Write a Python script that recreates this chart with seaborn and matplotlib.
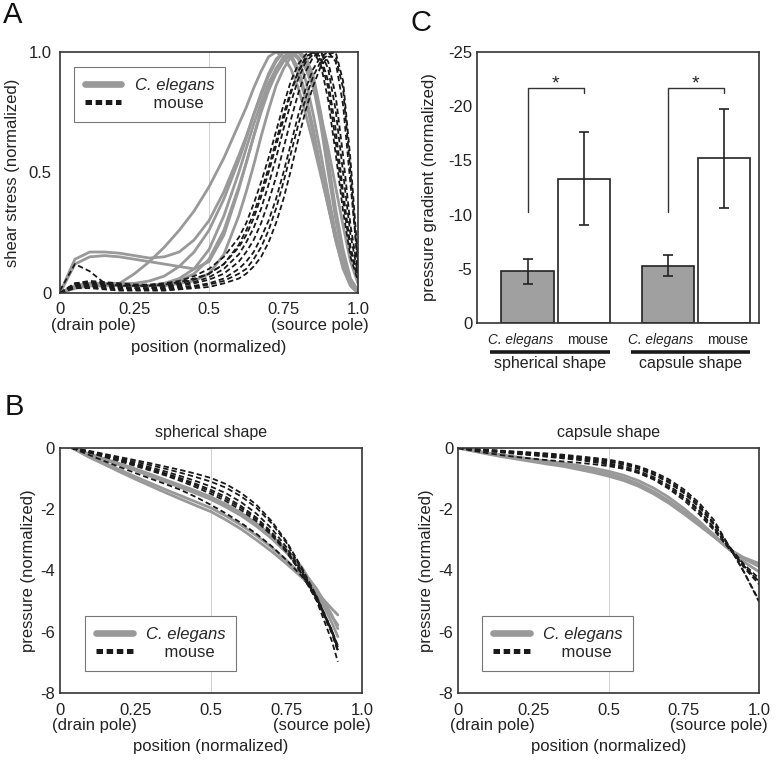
import matplotlib
matplotlib.use("Agg")
import matplotlib.pyplot as plt
from matplotlib.lines import Line2D
import pandas as pd
import seaborn as sns

# ---------------- panel A: shear stress (normalized) ----------------
shear_x = [0, 0.05, 0.1, 0.15, 0.2, 0.25, 0.3, 0.35, 0.4, 0.45, 0.5, 0.55, 0.6, 0.625,
           0.65, 0.675, 0.7, 0.725, 0.75, 0.775, 0.8, 0.825, 0.85, 0.875, 0.9, 0.925,
           0.95, 0.975, 1.0]
shear_celegans = [
    [0, .02, .03, .03, .04, .08, .13, .19, .26, .34, .44, .56, .70, .77, .85, .92, .98, 1.0,
     .98, .93, .85, .74, .62, .49, .36, .23, .12, .04, 0],
    [0, .14, .17, .17, .165, .155, .145, .15, .17, .22, .30, .42, .57, .65, .74, .82, .90, .96,
     1.0, .99, .93, .82, .68, .52, .37, .22, .10, .03, 0],
    [0, .12, .15, .155, .15, .14, .13, .12, .11, .10, .13, .24, .43, .54, .65, .76, .86, .93,
     .98, 1.0, .97, .88, .74, .58, .41, .25, .12, .04, 0],
    [0, .03, .04, .04, .04, .04, .05, .07, .11, .17, .26, .39, .55, .64, .74, .83, .91, .97,
     1.0, .98, .91, .80, .66, .51, .36, .22, .11, .03, 0],
    [0, .03, .04, .04, .035, .03, .03, .04, .05, .08, .14, .26, .44, .54, .65, .75, .84, .91,
     .96, .99, 1.0, .96, .86, .70, .50, .31, .15, .05, 0],
    [0, .03, .035, .035, .03, .03, .03, .03, .04, .05, .08, .16, .32, .42, .53, .65, .76, .86,
     .93, .98, 1.0, .98, .90, .75, .55, .35, .18, .06, .01],
    [0, .02, .03, .03, .03, .03, .03, .04, .06, .10, .18, .32, .50, .60, .70, .79, .87, .93,
     .97, 1.0, .98, .93, .85, .74, .60, .44, .28, .13, .04],
]
shear_mouse = [
    [.01, .12, .09, .04, .03, .03, .03, .035, .045, .06, .08, .12, .20, .26, .33, .42, .52,
     .63, .74, .84, .92, .98, 1.0, .97, .85, .63, .38, .17, .06],
    [0, .04, .05, .045, .04, .035, .035, .04, .05, .07, .10, .15, .23, .29, .37, .46, .56,
     .67, .78, .88, .95, .99, 1.0, .95, .80, .58, .34, .15, .05],
    [0, .04, .045, .04, .035, .03, .03, .035, .04, .055, .08, .12, .19, .24, .31, .40, .50,
     .61, .72, .83, .92, .97, 1.0, .98, .88, .68, .42, .19, .07],
    [0, .035, .04, .035, .03, .03, .03, .03, .035, .045, .065, .10, .16, .21, .27, .35, .45,
     .56, .68, .79, .89, .96, .99, 1.0, .93, .76, .50, .24, .08],
    [0, .03, .035, .03, .025, .02, .02, .025, .03, .04, .055, .08, .13, .17, .22, .29, .38,
     .48, .60, .72, .83, .92, .98, 1.0, .96, .82, .57, .28, .09],
    [0, .03, .03, .025, .02, .02, .02, .02, .025, .03, .04, .06, .10, .13, .17, .23, .30,
     .39, .50, .62, .74, .85, .93, .98, 1.0, .96, .78, .45, .12],
    [0, .025, .025, .02, .015, .015, .015, .015, .02, .025, .035, .05, .08, .10, .14, .19,
     .26, .35, .46, .58, .70, .81, .90, .96, .99, 1.0, .88, .55, .14],
    [0, .02, .02, .015, .01, .01, .01, .01, .015, .02, .025, .04, .06, .08, .11, .15, .21,
     .29, .39, .51, .64, .76, .86, .94, .98, .98, .85, .50, .10],
]

# ---------------- panel B: pressure (normalized) ----------------
sph_x = [0.04, 0.1, 0.15, 0.2, 0.25, 0.3, 0.35, 0.4, 0.45, 0.5, 0.55, 0.6, 0.65, 0.7,
         0.75, 0.8, 0.85, 0.9, 0.92]
sph_celegans = [
    [0, -.32, -.55, -.79, -1.02, -1.24, -1.46, -1.67, -1.88, -2.08, -2.35, -2.65, -3.0,
     -3.37, -3.78, -4.22, -4.7, -5.25, -5.45],
    [0, -.28, -.5, -.72, -.94, -1.15, -1.36, -1.56, -1.76, -1.96, -2.22, -2.52, -2.86,
     -3.24, -3.67, -4.15, -4.75, -5.5, -5.78],
    [0, -.2, -.36, -.52, -.68, -.86, -1.04, -1.22, -1.4, -1.6, -1.84, -2.12, -2.46, -2.86,
     -3.32, -3.88, -4.7, -5.7, -6.16],
    [0, -.22, -.39, -.56, -.73, -.92, -1.1, -1.29, -1.48, -1.68, -1.93, -2.21, -2.55, -2.95,
     -3.42, -3.96, -4.6, -5.45, -5.9],
]
sph_mouse = [
    [0, -.1, -.2, -.3, -.4, -.5, -.61, -.72, -.84, -.98, -1.18, -1.47, -1.85, -2.38, -3.05,
     -3.9, -4.85, -5.95, -6.5],
    [0, -.12, -.23, -.34, -.45, -.56, -.68, -.81, -.95, -1.1, -1.3, -1.58, -1.95, -2.45,
     -3.1, -3.95, -4.9, -6.0, -6.6],
    [0, -.13, -.25, -.37, -.5, -.63, -.77, -.92, -1.08, -1.26, -1.48, -1.77, -2.14, -2.62,
     -3.24, -4.02, -4.92, -5.95, -6.45],
    [0, -.14, -.27, -.4, -.54, -.68, -.83, -.99, -1.17, -1.37, -1.6, -1.9, -2.27, -2.74,
     -3.34, -4.08, -4.95, -6.0, -6.55],
    [0, -.16, -.3, -.44, -.59, -.74, -.9, -1.08, -1.28, -1.5, -1.74, -2.03, -2.39, -2.84,
     -3.4, -4.1, -4.95, -6.05, -6.65],
    [0, -.24, -.44, -.63, -.82, -1.0, -1.18, -1.37, -1.6, -1.86, -2.14, -2.45, -2.8, -3.2,
     -3.66, -4.18, -4.85, -5.95, -6.6],
    [0, -.15, -.28, -.41, -.55, -.7, -.86, -1.03, -1.22, -1.43, -1.67, -1.96, -2.33, -2.79,
     -3.37, -4.1, -5.0, -6.3, -6.98],
]

cap_x = [0, 0.05, 0.1, 0.15, 0.2, 0.25, 0.3, 0.35, 0.4, 0.45, 0.5, 0.55, 0.6, 0.65, 0.7,
         0.75, 0.8, 0.85, 0.9, 0.95, 1.0]
cap_celegans = [
    [0, -.1, -.2, -.29, -.37, -.45, -.53, -.6, -.7, -.8, -.92, -1.06, -1.25, -1.5, -1.8,
     -2.15, -2.52, -2.9, -3.3, -3.58, -3.77],
    [0, -.09, -.18, -.26, -.34, -.41, -.48, -.55, -.63, -.73, -.84, -.98, -1.17, -1.42,
     -1.72, -2.07, -2.46, -2.87, -3.3, -3.62, -3.87],
    [0, -.08, -.16, -.23, -.3, -.37, -.43, -.5, -.57, -.66, -.76, -.89, -1.07, -1.31, -1.61,
     -1.97, -2.38, -2.83, -3.3, -3.72, -4.04],
]
cap_mouse = [
    [0, -.09, -.17, -.24, -.3, -.35, -.4, -.44, -.48, -.53, -.59, -.68, -.82, -1.03, -1.33,
     -1.7, -2.15, -2.68, -3.28, -3.85, -4.36],
    [0, -.03, -.06, -.09, -.12, -.15, -.18, -.22, -.27, -.32, -.38, -.47, -.6, -.78, -1.02,
     -1.35, -1.78, -2.35, -3.2, -4.05, -5.02],
    [0, -.04, -.08, -.12, -.16, -.2, -.24, -.28, -.33, -.39, -.45, -.54, -.68, -.87, -1.13,
     -1.47, -1.92, -2.5, -3.2, -3.8, -4.26],
    [0, -.05, -.1, -.14, -.18, -.22, -.27, -.31, -.36, -.42, -.5, -.6, -.75, -.95, -1.22,
     -1.57, -2.02, -2.6, -3.25, -3.85, -4.36],
    [0, -.05, -.1, -.15, -.2, -.24, -.29, -.34, -.39, -.46, -.54, -.65, -.8, -1.0, -1.28,
     -1.63, -2.07, -2.62, -3.25, -3.9, -4.45],
    [0, -.04, -.07, -.1, -.14, -.17, -.21, -.25, -.3, -.35, -.42, -.51, -.64, -.83, -1.08,
     -1.42, -1.85, -2.45, -3.2, -4.05, -4.98],
]

# ---------------- panel C: pressure gradient (normalized) ----------------
shapes = ["spherical shape", "capsule shape"]
species = ["C. elegans", "mouse"]
grad_celegans = [-4.75, -5.3]
grad_mouse = [-13.3, -15.2]
err_celegans = [1.16, 1.0]
err_mouse = [4.3, 4.57]

GRAY = "#999999"
DARK = "#1a1a1a"
FRAME = "#333333"

sns.set_theme(style="white")
plt.rcParams["font.family"] = ["Liberation Sans", "DejaVu Sans"]
plt.rcParams["axes.unicode_minus"] = False


def to_long(x, gray_curves, black_curves):
    rows = []
    for name, curves in zip(species, [gray_curves, black_curves]):
        for k, ys in enumerate(curves):
            for xi, yi in zip(x, ys):
                rows.append({"x": xi, "y": yi, "species": name, "curve": f"{name}-{k}"})
    return pd.DataFrame(rows)


def draw_profiles(ax, df):
    sns.lineplot(data=df, x="x", y="y", hue="species", size="species", style="species",
                 units="curve", estimator=None, sort=False, hue_order=species,
                 palette={"C. elegans": GRAY, "mouse": DARK},
                 sizes={"C. elegans": 2.0, "mouse": 1.3},
                 dashes={"C. elegans": "", "mouse": (3.0, 1.7)},
                 legend=False, ax=ax)
    ax.axvline(0.5, color="#d0d0d0", lw=0.7, zorder=0)


def add_legend(ax, anchor):
    # four square dashes fill the handle, like the original key
    handles = [Line2D([], [], color=GRAY, lw=4.8),
               Line2D([], [], color=DARK, lw=3.6, ls=(0, (1.3, 0.73)))]
    leg = ax.legend(handles, ["C. elegans", "    mouse"], loc="upper left",
                    bbox_to_anchor=anchor, borderaxespad=0, frameon=True, fancybox=False,
                    edgecolor="#777777", framealpha=1, fontsize=12, handlelength=2.2,
                    handletextpad=0.8, borderpad=0.65, labelspacing=0.2)
    leg.get_frame().set_linewidth(0.8)
    leg.get_texts()[0].set_fontstyle("italic")


def style_axes(ax, xpad=6.5, ypad=4):
    for s in ax.spines.values():
        s.set_visible(True)
        s.set_color(FRAME)
        s.set_linewidth(1.2)
    ax.tick_params(axis="x", length=0, labelsize=12, pad=xpad, colors="#222222")
    ax.tick_params(axis="y", length=0, labelsize=12, pad=ypad, colors="#222222")


def position_axis(ax, xlabel_y, pole_y, left_x, right_x):
    ax.set_xlim(0, 1)
    ax.set_xticks([0, 0.25, 0.5, 0.75, 1.0], ["0", "0.25", "0.5", "0.75", "1.0"])
    ax.set_xlabel("position (normalized)", fontsize=12, color="#222222")
    ax.xaxis.set_label_coords(0.5, xlabel_y)
    ax.text(left_x, pole_y, "(drain pole)", transform=ax.transAxes, ha="left",
            va="center", fontsize=12, color="#222222")
    ax.text(right_x, pole_y, "(source pole)", transform=ax.transAxes, ha="right",
            va="center", fontsize=12, color="#222222")


fig = plt.figure(figsize=(7.76, 7.61), dpi=100)

# ---- A ----
ax_a = fig.add_axes([0.0773, 0.615, 0.384, 0.3167])
draw_profiles(ax_a, to_long(shear_x, shear_celegans, shear_mouse))
ax_a.set_ylim(0, 1)
ax_a.set_yticks([0, 0.5, 1.0], ["0", "0.5", "1.0"])
ax_a.set_ylabel("shear stress (normalized)", fontsize=12, color="#222222", labelpad=6)
position_axis(ax_a, -0.195, -0.133, -0.03, 1.035)
style_axes(ax_a, xpad=6.5, ypad=6)
add_legend(ax_a, (0.047, 0.938))

# ---- B ----
b_panels = [
    ([0.0773, 0.0894, 0.3892, 0.3219], "spherical shape", sph_x, sph_celegans, sph_mouse, (0.083, 0.314)),
    ([0.5902, 0.0894, 0.3879, 0.3219], "capsule shape", cap_x, cap_celegans, cap_mouse, (0.08, 0.314)),
]
for rect, title, xs, gray_c, black_c, anchor in b_panels:
    ax = fig.add_axes(rect)
    draw_profiles(ax, to_long(xs, gray_c, black_c))
    ax.set_ylim(-8, 0)
    ax.set_yticks([0, -2, -4, -6, -8], ["0", "-2", "-4", "-6", "-8"])
    ax.set_ylabel("pressure (normalized)", fontsize=12, color="#222222", labelpad=3)
    ax.set_title(title, fontsize=11.5, pad=8, color="#222222")
    position_axis(ax, -0.188, -0.131, -0.025, 1.03)
    style_axes(ax, xpad=7, ypad=3.5)
    add_legend(ax, anchor)

# ---- C ----
ax_c = fig.add_axes([0.6147, 0.5756, 0.3634, 0.3561])
grad_df = pd.DataFrame({
    "shape": shapes * 2,
    "species": [species[0]] * 2 + [species[1]] * 2,
    "value": grad_celegans + grad_mouse,
})
sns.barplot(data=grad_df, x="shape", y="value", hue="species", order=shapes,
            hue_order=species, palette={"C. elegans": "#a0a0a0", "mouse": "white"},
            edgecolor="#222222", linewidth=1.2, errorbar=None, gap=0.07, legend=False,
            ax=ax_c)
centers = []
for cont, vals, errs in zip(ax_c.containers, [grad_celegans, grad_mouse], [err_celegans, err_mouse]):
    cx = [p.get_x() + p.get_width() / 2 for p in cont]
    centers.append(cx)
    ax_c.errorbar(cx, vals, yerr=errs, fmt="none", ecolor="#222222", elinewidth=1.2,
                  capsize=3.3, capthick=1.2)

ax_c.set_xlim(-0.56, 1.45)
ax_c.set_ylim(0, -25)
ax_c.set_yticks([0, -5, -10, -15, -20, -25], ["0", "-5", "-10", "-15", "-20", "-25"])
ax_c.set_ylabel("pressure gradient (normalized)", fontsize=12, color="#222222", labelpad=8)
ax_c.set_xlabel("")

# species names sit slightly apart under each pair of bars
tick_pos = [centers[0][0] - 0.05, centers[1][0] + 0.025,
            centers[0][1] - 0.05, centers[1][1] + 0.025]
ax_c.set_xticks(tick_pos, ["C. elegans", "mouse", "C. elegans", "mouse"])
for t in ax_c.get_xticklabels():
    if "elegans" in t.get_text():
        t.set_fontstyle("italic")
style_axes(ax_c, xpad=7, ypad=3.5)
ax_c.tick_params(axis="x", labelsize=9.8)

xt = ax_c.get_xaxis_transform()
for i, name in enumerate(shapes):
    c0, c1 = centers[0][i], centers[1][i]
    ax_c.plot([c0, c0, c1, c1], [-10.2, -21.65, -21.65, -21.2], color="#333333", lw=1.0)
    ax_c.text((c0 + c1) / 2, -21.25, "*", ha="center", va="bottom", fontsize=14,
              color="#222222")
    mid = (c0 + c1) / 2 - 0.04
    ax_c.plot([mid - 0.425, mid + 0.425], [-0.107, -0.107], transform=xt, clip_on=False,
              color=DARK, lw=2.6, solid_capstyle="butt")
    ax_c.text(mid, -0.148, name, transform=xt, ha="center", va="center", fontsize=11.5,
              color="#222222")

# panel letters
fig.text(0.004, 0.999, "A", fontsize=21, va="top", ha="left", color="#111111")
fig.text(0.529, 0.988, "C", fontsize=21, va="top", ha="left", color="#111111")
fig.text(0.006, 0.484, "B", fontsize=21, va="top", ha="left", color="#111111")

fig.savefig("out.png", dpi=100)
